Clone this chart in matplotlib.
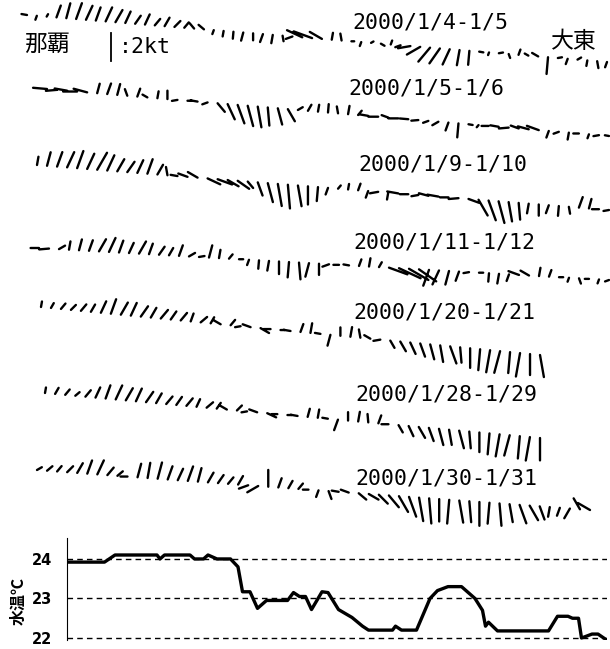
import numpy as np
import matplotlib.pyplot as plt

# current sticks along the Naha - Daito line
# speed in kt, direction the current flows toward (deg, clockwise from north)
spd_0104 = [0.4, 0.3, 0.2, 0.9, 1.1, 1.2, 1.1, 1.0, 1.1, 1.0, 0.9, 0.7, 0.8, 0.6, 0.7, 0.6, 0.5, 0.5,
            0.5, 0.3, 0.4, 0.5, 0.6, 0.5, 0.6, 0.6, 0.4, 0.5, 1.2, 1.4, 1.0, 0.5, 0.5,
            0.2, 0.3, 0.2, 0.3, 0.3, 0.4, 0.9, 1.1, 1.3, 1.3, 1.2, 1.1, 1.0,
            0.3, 0.2, 0.3, 0.3, 0.4, 0.3, 0.5, 1.2, 0.3, 0.4, 0.3, 0.4, 0.5, 0.4]
dir_0104 = [280, 200, 30, 20, 15, 20, 25, 20, 25, 30, 25, 35, 25, 40, 30, 45, 40, 320,
            310, 200, 190, 185, 195, 180, 200, 190, 170, 250, 295, 290, 300, 10, 350,
            90, 200, 60, 120, 20, 250, 260, 240, 220, 215, 205, 190, 185,
            100, 200, 80, 160, 20, 300, 300, 185, 80, 200, 60, 190, 170, 200]

spd_0105 = [1.0, 0.8, 0.9, 1.0, 1.0, 0.7, 0.8, 0.8, 0.5, 0.6, 0.4, 0.5, 0.6, 0.4, 0.3, 0.5, 0.4,
            0.8, 1.2, 1.4, 1.5, 1.5, 1.3, 1.2, 1.0, 0.4, 0.5, 0.5, 0.6, 0.5, 0.6, 0.4,
            0.6, 0.7, 0.5, 0.7, 0.6, 0.5, 0.4, 0.5, 0.6, 1.0, 0.3, 0.2,
            0.5, 0.6, 0.7, 0.6, 0.8, 0.9, 0.5, 0.4, 0.5, 0.4, 0.3, 0.4, 0.3]
dir_0105 = [275, 265, 280, 270, 285, 15, 20, 15, 340, 20, 300, 10, 0, 260, 90, 280, 250,
            140, 155, 160, 165, 170, 175, 165, 150, 60, 30, 10, 5, 350, 10, 40,
            280, 270, 290, 270, 275, 265, 250, 240, 200, 185, 100, 220,
            270, 280, 265, 290, 285, 290, 200, 250, 190, 270, 200, 260, 280]

spd_0109 = [0.6, 1.0, 1.1, 1.2, 1.3, 1.2, 1.4, 1.2, 1.0, 0.9, 1.0, 1.1, 0.8,
            0.6, 0.5, 0.7, 0.8, 1.0, 1.1, 0.9, 1.0, 0.6, 1.0, 1.4, 1.6, 1.7, 1.5, 1.3, 1.0,
            0.5, 0.3, 0.4, 0.5, 0.5, 0.6, 0.5, 0.8, 0.6, 0.5, 0.7, 0.8, 0.6, 0.7, 0.8,
            1.3, 1.5, 1.6, 1.4, 1.2, 0.7, 0.8, 0.6, 0.7, 0.5, 0.8, 0.7, 0.5, 0.4]
dir_0109 = [10, 15, 20, 25, 20, 25, 30, 25, 30, 35, 25, 20, 30,
            350, 280, 290, 300, 115, 110, 120, 125, 140, 160, 165, 170, 175, 170, 180, 185,
            200, 40, 10, 20, 200, 260, 190, 280, 270, 260, 285, 280, 270, 265, 110,
            150, 160, 165, 170, 175, 190, 180, 200, 185, 170, 20, 15, 270, 260]

spd_0111 = [0.6, 0.7, 0.5, 0.6, 0.8, 0.8, 1.0, 1.1, 0.9, 0.8, 1.0, 0.8, 0.7, 0.6, 0.8, 0.5, 0.4, 0.9,
            0.6, 0.4, 0.3, 0.4, 0.6, 0.7, 0.9, 1.1, 1.2, 1.0, 0.8, 0.5, 0.4,
            0.4, 0.5, 0.6, 0.4, 1.4, 1.7, 1.6, 1.5, 1.2, 1.1, 1.0, 0.7,
            0.4, 0.3, 0.6, 0.7, 0.5, 0.8, 0.7, 0.6, 0.5, 0.3, 0.3, 0.4, 0.3, 0.3, 0.3]
dir_0111 = [270, 265, 60, 10, 15, 20, 30, 25, 20, 25, 30, 20, 35, 30, 20, 60, 80, 15,
            10, 40, 90, 200, 185, 190, 180, 185, 175, 195, 180, 250, 270,
            280, 20, 10, 30, 110, 115, 120, 125, 200, 205, 195, 200,
            260, 90, 185, 190, 200, 290, 300, 10, 20, 90, 200, 160, 270, 200, 250]

spd_0120 = [0.4, 0.4, 0.5, 0.5, 0.6, 0.6, 0.9, 1.1, 1.0, 1.0, 0.9, 0.8, 0.8, 0.7,
            0.7, 0.6, 0.6, 0.5, 0.6, 0.5, 0.4, 0.6, 0.7, 0.5, 0.3, 0.5, 0.6, 0.7, 0.4,
            0.8, 0.6, 0.7, 0.6, 0.5, 0.5, 0.6, 0.8, 0.9, 1.0, 1.1, 1.2, 1.3, 1.1, 1.4,
            1.5, 1.6, 1.6, 1.5, 1.7, 1.5, 1.6]
dir_0120 = [10, 30, 40, 45, 40, 30, 25, 20, 30, 25, 35, 30, 40, 35,
            40, 20, 50, 30, 300, 40, 260, 290, 120, 270, 90, 280, 20, 10, 280,
            195, 0, 10, 350, 300, 260, 150, 150, 155, 160, 165, 170, 160, 175, 180,
            185, 190, 195, 185, 190, 180, 170]

spd_0128 = [0.4, 0.5, 0.5, 0.4, 0.6, 0.8, 1.0, 1.1, 1.0, 1.0, 0.9, 0.8, 0.7, 0.7,
            0.7, 0.6, 0.6, 0.5, 0.6, 0.5, 0.4, 0.6, 0.7, 0.4, 0.3, 0.5, 0.6, 0.6, 0.4,
            0.8, 0.6, 0.7, 0.6, 0.6, 0.5, 0.6, 0.8, 0.9, 1.0, 1.2, 1.1, 1.3, 1.2, 1.4,
            1.5, 1.6, 1.5, 1.6, 1.7, 1.6]
dir_0128 = [10, 30, 40, 50, 40, 25, 20, 25, 30, 25, 35, 30, 40, 35,
            40, 25, 50, 35, 300, 45, 260, 290, 115, 270, 90, 280, 15, 10, 280,
            200, 0, 10, 355, 20, 270, 150, 155, 150, 160, 165, 170, 165, 175, 180,
            185, 190, 195, 185, 190, 180]

spd_0130 = [0.4, 0.5, 0.5, 0.6, 0.8, 1.0, 1.1, 0.7, 0.5, 0.5,
            1.0, 1.1, 1.2, 1.0, 0.9, 1.1, 1.0, 0.8, 0.7, 0.6, 0.7, 0.7, 0.9, 1.2,
            0.7, 0.6, 0.5, 0.4, 0.5, 0.6, 0.5, 0.6, 0.7, 0.8,
            0.9, 1.1, 1.3, 1.5, 1.7, 1.8, 1.6, 1.7, 1.6, 1.5, 1.7, 1.5, 1.6, 1.3, 1.4, 1.2, 1.0,
            0.7, 0.6, 0.8, 0.9, 1.0]
dir_0130 = [60, 50, 40, 45, 30, 20, 25, 40, 50, 270,
            15, 10, 15, 20, 25, 20, 15, 30, 35, 40, 30, 250, 240, 0,
            20, 30, 40, 270, 200, 160, 280, 290, 130, 120,
            135, 140, 150, 160, 170, 175, 180, 185, 170, 175, 180, 185, 175, 170, 160, 150, 160,
            190, 200, 210, 330, 300]

dates = ['2000/1/4-1/5', '2000/1/5-1/6', '2000/1/9-1/10', '2000/1/11-1/12',
         '2000/1/20-1/21', '2000/1/28-1/29', '2000/1/30-1/31']
speeds = [spd_0104, spd_0105, spd_0109, spd_0111, spd_0120, spd_0128, spd_0130]
directions = [dir_0104, dir_0105, dir_0109, dir_0111, dir_0120, dir_0128, dir_0130]

# water temperature along the track (km from Naha, deg C)
dist_km = [0, 25, 32, 60, 62, 65, 82, 85, 91, 94, 100, 109, 114, 117, 122, 127, 133, 147, 151, 155,
           159, 163, 170, 174, 181, 190, 197, 201, 217, 219, 223, 233, 242, 247, 254, 263, 272,
           277, 279, 281, 287, 321, 327, 334, 337, 341, 343, 350, 354, 359]
temp = [23.92, 23.92, 24.1, 24.1, 24.0, 24.1, 24.1, 24.0, 24.0, 24.1, 24.0, 24.0, 23.8, 23.17,
        23.17, 22.75, 22.95, 22.95, 23.15, 23.05, 23.05, 22.72, 23.17, 23.15, 22.72, 22.52, 22.3,
        22.2, 22.2, 22.3, 22.2, 22.2, 23.0, 23.2, 23.3, 23.3, 23.0, 22.7, 22.3, 22.4, 22.18, 22.18,
        22.55, 22.55, 22.5, 22.5, 22.0, 22.1, 22.1, 21.97]

# page layout (pixels): start / end of each track line, label anchors
tracks = [((27, 15), (607, 62)), ((47, 89), (609, 136)), ((37, 165), (609, 210)),
          ((39, 248), (609, 280)), ((41, 307), (540, 355)), ((45, 393), (540, 438)),
          ((37, 470), (590, 510))]
label_xy = [(352, 22), (348, 88), (358, 165), (353, 242), (353, 312), (355, 395), (355, 478)]
px_per_kt = 14

fig = plt.figure(figsize=(6.1, 6.49), dpi=100)

# stick plots
ax = fig.add_axes([0, 1 - 530 / 649, 1, 530 / 649])
ax.set_xlim(0, 610)
ax.set_ylim(530, 0)
ax.axis('off')

for spd, drc, ((x0, y0), (x1, y1)), date, (lx, ly) in zip(speeds, directions, tracks, dates, label_xy):
    spd = np.array(spd)
    ang = np.radians(drc)
    f = np.linspace(0, 1, len(spd))
    bx = x0 + f * (x1 - x0)
    by = y0 + f * (y1 - y0)
    u = spd * np.sin(ang) * px_per_kt
    v = spd * np.cos(ang) * px_per_kt
    gap = np.full_like(bx, np.nan)
    xs = np.column_stack([bx, bx + u, gap]).ravel()
    ys = np.column_stack([by, by - v, gap]).ravel()
    ax.plot(xs, ys, color='black', lw=1.7, solid_capstyle='round')
    ax.text(lx, ly, date, fontsize=15.5, family='DejaVu Sans Mono', va='center', ha='left')

# scale and place names
ax.plot([111, 111], [33, 33 + 2 * px_per_kt], color='black', lw=1.3)
ax.text(119, 47, ':2kt', fontsize=15.5, family='DejaVu Sans Mono', va='center', ha='left')
ax.text(24, 44, '那覇', fontsize=16.5, family=['Noto Sans CJK JP'], va='center', ha='left')
ax.text(551, 42, '大東', fontsize=16.5, family=['Noto Sans CJK JP'], va='center', ha='left')

# water temperature
ax2 = fig.add_axes([67 / 610, 1 - 640 / 649, 540 / 610, 102 / 649])
ax2.plot(dist_km, temp, color='black', lw=2.4)
for t in [22, 23, 24]:
    ax2.axhline(t, color='black', lw=1.0, ls=(0, (4, 3)))
ax2.set_xlim(0, 360)
ax2.set_ylim(21.95, 24.53)
ax2.set_xticks([])
ax2.set_yticks([22, 23, 24])
ax2.tick_params(axis='y', length=0, pad=11, labelsize=10.5)
for lab in ax2.get_yticklabels():
    lab.set_fontweight('bold')
for s in ['top', 'right', 'bottom']:
    ax2.spines[s].set_visible(False)
ax2.spines['left'].set_linewidth(0.8)
fig.text(19 / 610, 1 - 601 / 649, '水温℃', rotation=90, fontsize=11.5, fontweight='bold',
         family=['Noto Sans CJK JP', 'DejaVu Sans'], va='center', ha='center')

fig.savefig('out.png', dpi=100)
